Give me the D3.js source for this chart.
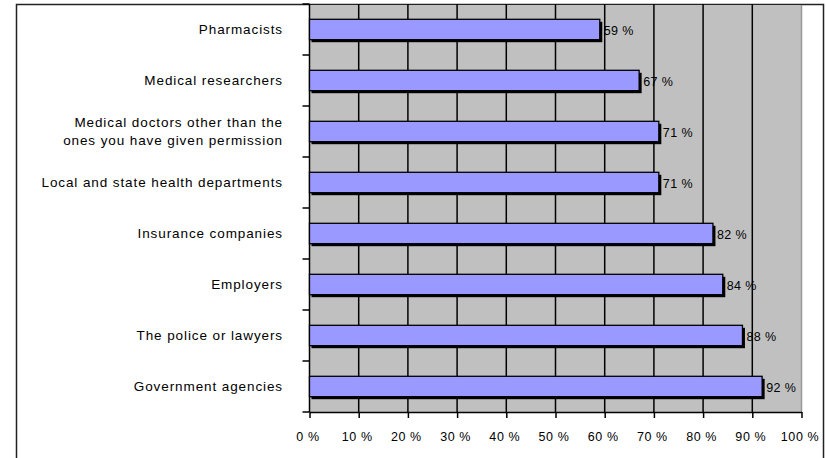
<!DOCTYPE html>
<html>
<head>
<meta charset="utf-8">
<script src="https://cdn.jsdelivr.net/npm/d3@7"></script>
<style>
  html, body { margin: 0; padding: 0; background: #fff; }
  svg { display: block; }
  text { font-family: "Liberation Sans", Arial, sans-serif; fill: #000; }
</style>
</head>
<body>
<svg id="chart" width="826" height="458"></svg>
<script>
// Share of respondents who object to each party seeing their records
const categories = [
  ["Pharmacists"],
  ["Medical researchers"],
  ["Medical doctors other than the", "ones you have given permission"],
  ["Local and state health departments"],
  ["Insurance companies"],
  ["Employers"],
  ["The police or lawyers"],
  ["Government agencies"]
];
const values = [59, 67, 71, 71, 82, 84, 88, 92];
const tickValues = [0, 10, 20, 30, 40, 50, 60, 70, 80, 90, 100];
const tickLabels = ["0 %", "10 %", "20 %", "30 %", "40 %", "50 %", "60 %", "70 %", "80 %", "90 %", "100 %"];

const svg = d3.select("#chart");
const plot = { left: 309.5, right: 801.5, top: 4, bottom: 412 };

const x = d3.scaleLinear().domain([0, 100]).range([plot.left, plot.right]);
const y = d3.scaleBand()
  .domain(d3.range(categories.length))
  .range([plot.top, plot.bottom])
  .paddingInner(0.6)
  .paddingOuter(0.3);
const band = d3.scaleBand()
  .domain(d3.range(categories.length))
  .range([plot.top, plot.bottom]);

// outer frame
svg.append("path")
  .attr("d", `M16.5,458 V4.5 H823.5 V458`)
  .attr("fill", "none")
  .attr("stroke", "#222")
  .attr("stroke-width", 1.5);

// plot background
svg.append("rect")
  .attr("x", plot.left).attr("y", plot.top + 1)
  .attr("width", plot.right - plot.left)
  .attr("height", plot.bottom - plot.top - 1)
  .attr("fill", "#c0c0c0");

// right edge of plot area
svg.append("line")
  .attr("x1", plot.right).attr("x2", plot.right)
  .attr("y1", plot.top + 1).attr("y2", plot.bottom)
  .attr("stroke", "#999").attr("stroke-width", 1.5);

// vertical gridlines
svg.append("g").selectAll("line")
  .data(tickValues.slice(1, -1))
  .join("line")
  .attr("x1", d => x(d)).attr("x2", d => x(d))
  .attr("y1", plot.top).attr("y2", plot.bottom)
  .attr("stroke", "#000").attr("stroke-width", 1.5);

// bottom axis
const xAxis = d3.axisBottom(x)
  .tickValues(tickValues)
  .tickSize(6)
  .tickSizeOuter(0)
  .tickFormat((d, i) => tickLabels[i]);
const gx = svg.append("g")
  .attr("transform", `translate(0,${plot.bottom})`)
  .call(xAxis);
gx.select(".domain").attr("stroke", "#000").attr("stroke-width", 1.5);
gx.selectAll(".tick line").attr("stroke", "#000").attr("stroke-width", 1.5);
gx.selectAll(".tick text")
  .attr("dy", 0)
  .attr("y", 29)
  .attr("dx", -2)
  .style("font-size", "12.5px")
  .style("letter-spacing", "0.6px")
  .attr("font-family", null);

// left axis: ticks on band boundaries
const gy = svg.append("g");
gy.append("line")
  .attr("x1", plot.left).attr("x2", plot.left)
  .attr("y1", plot.top).attr("y2", plot.bottom)
  .attr("stroke", "#000").attr("stroke-width", 1.5);
gy.selectAll("line.tick")
  .data(d3.range(categories.length + 1))
  .join("line")
  .attr("class", "tick")
  .attr("x1", plot.left - 7).attr("x2", plot.left)
  .attr("y1", i => plot.top + i * band.step())
  .attr("y2", i => plot.top + i * band.step())
  .attr("stroke", "#000").attr("stroke-width", 1.5);

// category labels
const labels = svg.append("g");
categories.forEach((lines, i) => {
  const cy = band(i) + band.bandwidth() / 2;
  const t = labels.append("text")
    .attr("x", 283)
    .attr("text-anchor", "end")
    .style("font-size", "13.5px")
    .style("letter-spacing", "0.9px");
  lines.forEach((ln, j) => {
    t.append("tspan")
      .attr("x", 283)
      .attr("y", cy + 4.5 + (j - (lines.length - 1) / 2) * 18)
      .text(ln);
  });
});

// bars with dark drop shadow
const bars = svg.append("g");
bars.selectAll("rect.shadow")
  .data(values)
  .join("rect")
  .attr("class", "shadow")
  .attr("x", x(0) + 2)
  .attr("y", (d, i) => y(i) + 2.5)
  .attr("width", d => x(d) - x(0) + 0.5)
  .attr("height", y.bandwidth())
  .attr("fill", "#000");
bars.selectAll("rect.bar")
  .data(values)
  .join("rect")
  .attr("class", "bar")
  .attr("x", x(0))
  .attr("y", (d, i) => y(i))
  .attr("width", d => x(d) - x(0))
  .attr("height", y.bandwidth())
  .attr("fill", "#9999ff")
  .attr("stroke", "#000")
  .attr("stroke-width", 1.3);

// value labels
svg.append("g").selectAll("text")
  .data(values)
  .join("text")
  .attr("x", d => x(d) + 4)
  .attr("y", (d, i) => y(i) + y.bandwidth() / 2 + 5)
  .style("font-size", "12.5px")
  .style("letter-spacing", "0.4px")
  .text(d => d + " %");
</script>
</body>
</html>
